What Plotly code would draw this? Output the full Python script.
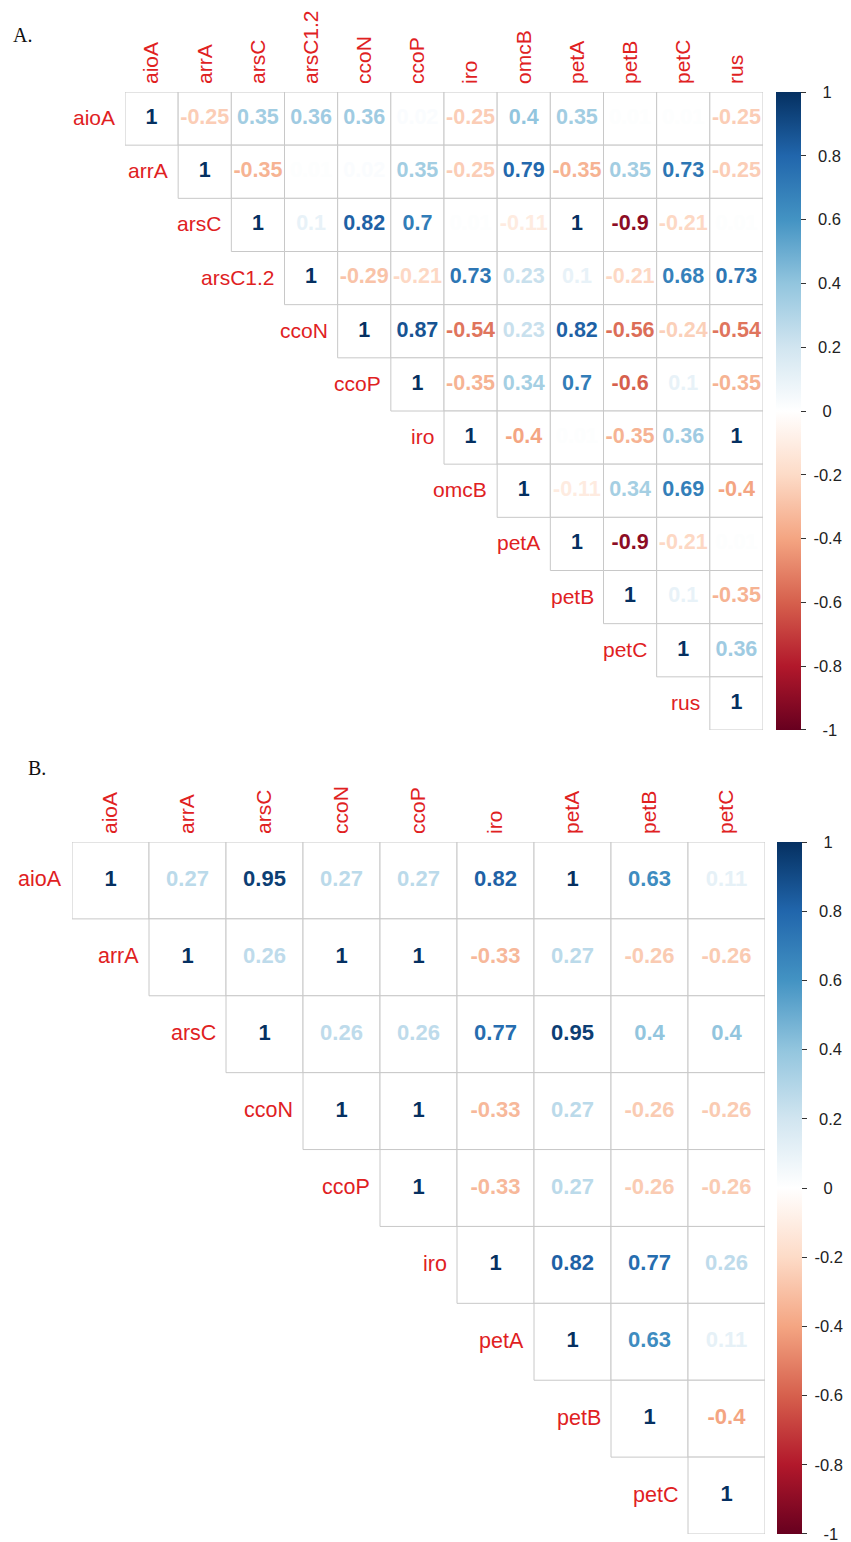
import plotly.graph_objects as go
from plotly.colors import sample_colorscale

# ---- Panel A: gene-abundance correlations (upper triangle, row by row) ----
genes_a = ["aioA", "arrA", "arsC", "arsC1.2", "ccoN", "ccoP", "iro",
           "omcB", "petA", "petB", "petC", "rus"]
corr_a_rows = [
    [1, -0.25, 0.35, 0.36, 0.36, 0.02, -0.25, 0.4, 0.35, 0.01, 0.01, -0.25],
    [1, -0.35, 0.01, 0.02, 0.35, -0.25, 0.79, -0.35, 0.35, 0.73, -0.25],
    [1, 0.1, 0.82, 0.7, 0.01, -0.11, 1, -0.9, -0.21, 0.01],
    [1, -0.29, -0.21, 0.73, 0.23, 0.1, -0.21, 0.68, 0.73],
    [1, 0.87, -0.54, 0.23, 0.82, -0.56, -0.24, -0.54],
    [1, -0.35, 0.34, 0.7, -0.6, 0.1, -0.35],
    [1, -0.4, 0.01, -0.35, 0.36, 1],
    [1, -0.11, 0.34, 0.69, -0.4],
    [1, -0.9, -0.21, 0.01],
    [1, 0.1, -0.35],
    [1, 0.36],
    [1],
]

# ---- Panel B ----
genes_b = ["aioA", "arrA", "arsC", "ccoN", "ccoP", "iro", "petA", "petB", "petC"]
corr_b_rows = [
    [1, 0.27, 0.95, 0.27, 0.27, 0.82, 1, 0.63, 0.11],
    [1, 0.26, 1, 1, -0.33, 0.27, -0.26, -0.26],
    [1, 0.26, 0.26, 0.77, 0.95, 0.4, 0.4],
    [1, 1, -0.33, 0.27, -0.26, -0.26],
    [1, -0.33, 0.27, -0.26, -0.26],
    [1, 0.82, 0.77, 0.26],
    [1, 0.63, 0.11],
    [1, -0.4],
    [1],
]

cbar_ticks = [1, 0.8, 0.6, 0.4, 0.2, 0, -0.2, -0.4, -0.6, -0.8, -1]

# RdBu diverging palette (-1 -> 1)
rdbu = ["#67001F", "#B2182B", "#D6604D", "#F4A582", "#FDDBC7", "#FFFFFF",
        "#D1E5F0", "#92C5DE", "#4393C3", "#2166AC", "#053061"]
colorscale = [[i / (len(rdbu) - 1), c] for i, c in enumerate(rdbu)]

LABEL_RED = "#E0211F"
GRID = "#C8C8C8"
SANS = "Liberation Sans, Arial, sans-serif"
NBSP = "\u00a0"
EPS = 1e-4  # keeps the end ticks (+/-1) from being dropped at the bar edges


def fmt(v):
    return f"{v:g}"


def cbar_label(v):
    # roughly centre the colour-bar labels in their column
    s = fmt(v)
    pad = {1: 3, 2: 3, 3: 2, 4: 1}[len(s)]
    return NBSP * pad + s


fig = go.Figure()
annotations = []


def add_panel(genes, rows, xa, ya, num_size, lab_size, cb_x, cb_y, cb_len):
    n = len(genes)
    xs, ys, vals = [], [], []
    for i, row in enumerate(rows):
        for k, v in enumerate(row):
            xs.append(i + k)
            ys.append(i)
            vals.append(v)
    colors = sample_colorscale(colorscale, [(v + 1) / 2 for v in vals])

    # cell outlines
    for x, y in zip(xs, ys):
        fig.add_shape(type="rect", xref=xa, yref=ya,
                      x0=x - 0.5, x1=x + 0.5, y0=y - 0.5, y1=y + 0.5,
                      line=dict(color=GRID, width=1), fillcolor="white",
                      layer="below")

    # coefficient numbers + colour legend
    fig.add_trace(go.Scatter(
        x=xs, y=ys, xaxis=xa, yaxis=ya, mode="markers+text",
        text=[fmt(v) for v in vals],
        textfont=dict(family=SANS, size=num_size, color=colors, weight="bold"),
        marker=dict(color=vals, colorscale=colorscale,
                    cmin=-1 - EPS, cmax=1 + EPS,
                    opacity=0, size=1, showscale=True,
                    colorbar=dict(
                        x=cb_x, xanchor="left", y=cb_y, yanchor="middle",
                        len=cb_len, lenmode="fraction", thickness=25,
                        thicknessmode="pixels", xpad=0, ypad=0,
                        outlinewidth=0, tickvals=cbar_ticks,
                        ticktext=[cbar_label(t) for t in cbar_ticks],
                        ticklabeloverflow="allow",
                        ticks="outside", ticklen=5, tickcolor="#333333",
                        tickfont=dict(family=SANS, size=16.5, color="#222222"))),
        hoverinfo="skip", showlegend=False, cliponaxis=False))

    # row labels, left of each diagonal cell
    for i, g in enumerate(genes):
        annotations.append(dict(
            text=g, xref=xa, yref=ya, x=i - 0.5, y=i, xanchor="right",
            yanchor="middle", xshift=-8, yshift=1, showarrow=False,
            font=dict(family=SANS, size=lab_size, color=LABEL_RED)))


W, H = 851, 1542


def dom_x(a, b):
    return [a / W, b / W]


def dom_y(top, bottom):
    return [1 - bottom / H, 1 - top / H]


add_panel(genes_a, corr_a_rows, "x", "y", 21.5, 21,
          776 / W, 1 - (92 + 730) / 2 / H, (730 - 92) / H)
add_panel(genes_b, corr_b_rows, "x2", "y2", 22, 21.5,
          777 / W, 1 - (842 + 1534) / 2 / H, (1534 - 842) / H)

common_y = dict(visible=False, showgrid=False, zeroline=False)


def top_axis(size):
    return dict(side="top", showgrid=False, zeroline=False, showline=False,
                ticks="", tickangle=-90, ticklabelstandoff=7,
                tickfont=dict(family=SANS, size=size, color=LABEL_RED))


serif = dict(family="Liberation Serif, Times New Roman, serif",
             size=20, color="#111111")
annotations += [
    dict(text="A.", xref="paper", yref="paper", x=11 / W, y=1 - 35 / H,
         xanchor="left", yanchor="middle", showarrow=False, font=serif),
    dict(text="B.", xref="paper", yref="paper", x=26 / W, y=1 - 768 / H,
         xanchor="left", yanchor="middle", showarrow=False, font=serif),
]

fig.update_layout(
    width=W, height=H,
    margin=dict(l=0, r=0, t=0, b=0),
    paper_bgcolor="white", plot_bgcolor="rgba(0,0,0,0)",
    xaxis=dict(domain=dom_x(125, 763), range=[-0.5, len(genes_a) - 0.5],
               tickvals=list(range(len(genes_a))), ticktext=genes_a,
               anchor="y", **top_axis(21)),
    yaxis=dict(domain=dom_y(92, 730), range=[len(genes_a) - 0.5, -0.5],
               anchor="x", **common_y),
    xaxis2=dict(domain=dom_x(72, 765), range=[-0.5, len(genes_b) - 0.5],
                tickvals=list(range(len(genes_b))), ticktext=genes_b,
                anchor="y2", **top_axis(21)),
    yaxis2=dict(domain=dom_y(842, 1534), range=[len(genes_b) - 0.5, -0.5],
                anchor="x2", **common_y),
    annotations=annotations,
)

fig.write_html("out.html")
